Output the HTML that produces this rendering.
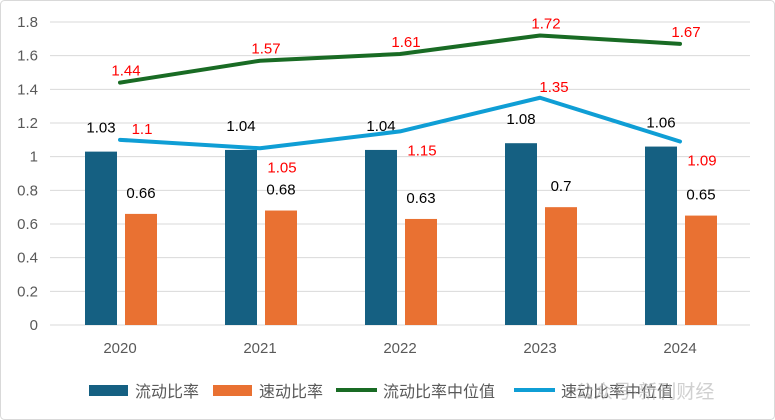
<!DOCTYPE html>
<html><head><meta charset="utf-8">
<style>
body{margin:0;background:#fff;}
#wrap{width:775px;height:420px;position:relative;overflow:hidden;}
svg text{font-family:"Liberation Sans","Noto Sans CJK SC",sans-serif;}
</style></head>
<body>
<div id="wrap">
<svg id="chart" width="775" height="420"></svg>
</div>
<script>
const categories=["2020","2021","2022","2023","2024"];
const currentRatio=[1.03,1.04,1.04,1.08,1.06];
const quickRatio=[0.66,0.68,0.63,0.7,0.65];
const currentMedian=[1.44,1.57,1.61,1.72,1.67];
const quickMedian=[1.1,1.05,1.15,1.35,1.09];
const yTicks=["0","0.2","0.4","0.6","0.8","1","1.2","1.4","1.6","1.8"];

const NS="http://www.w3.org/2000/svg";
const svg=document.getElementById('chart');
function mk(t,a,txt){const e=document.createElementNS(NS,t);for(const k in a)e.setAttribute(k,a[k]);if(txt!==undefined)e.textContent=txt;svg.appendChild(e);return e;}
const y0=325,y1=22,xL=50,xR=750;
function y(v){return y0-(v/1.8)*(y0-y1);}
function x(i){return 120+i*140;}

let b=mk('rect',{x:0.5,y:0.5,width:774,height:419,rx:4,fill:'#fff',stroke:'#d9d9d9'});


yTicks.forEach(t=>{const v=parseFloat(t);
 let g=mk('line',{x1:xL,x2:xR,y1:y(v),y2:y(v),stroke:'#d9d9d9','stroke-width':1});
 
 let l=mk('text',{x:38,y:y(v)+5,'text-anchor':'end','font-size':15,fill:'#595959'},t);
 
});
categories.forEach((c,i)=>{
 let l=mk('text',{x:x(i),y:353,'text-anchor':'middle','font-size':15,fill:'#595959'},c);
 
 let r1=mk('rect',{x:x(i)-35,y:y(currentRatio[i]),width:32,height:y0-y(currentRatio[i]),fill:'#156082'});
 
 let r2=mk('rect',{x:x(i)+5,y:y(quickRatio[i]),width:32,height:y0-y(quickRatio[i]),fill:'#e97132'});
 
 let t1=mk('text',{x:x(i)-19,y:y(currentRatio[i])-19,'text-anchor':'middle','font-size':15,fill:'#000'},currentRatio[i]);
 
 let t2=mk('text',{x:x(i)+21,y:y(quickRatio[i])-16,'text-anchor':'middle','font-size':15,fill:'#000'},quickRatio[i]);
 
});
function line(data,color,name){
 let p=mk('polyline',{points:data.map((v,i)=>x(i)+','+y(v)).join(' '),fill:'none',stroke:color,'stroke-width':4,'stroke-linejoin':'round','stroke-linecap':'round'});
 
}
line(currentMedian,'#196b24','line-current-median');
line(quickMedian,'#0f9ed5','line-quick-median');
currentMedian.forEach((v,i)=>{
 let t=mk('text',{x:x(i)+6,y:y(v)-7,'text-anchor':'middle','font-size':15,fill:'#ff0000'},v);
 
});
quickMedian.forEach((v,i)=>{
 const above=(i===0||i===3);
 let t=mk('text',{x:i===3?x(i)+14:x(i)+22,y:above?y(v)-6:y(v)+24,'text-anchor':'middle','font-size':15,fill:'#ff0000'},v);
 
});
// legend
let s;
s=mk('rect',{x:89,y:385,width:39,height:11,fill:'#156082'});
s=mk('text',{x:135,y:397,'font-size':16,fill:'#595959'},'流动比率');
s=mk('rect',{x:213,y:385,width:39,height:11,fill:'#e97132'});
s=mk('text',{x:259,y:397,'font-size':16,fill:'#595959'},'速动比率');
s=mk('line',{x1:336,x2:377,y1:390,y2:390,stroke:'#196b24','stroke-width':4});
s=mk('text',{x:383,y:397,'font-size':16,fill:'#595959'},'流动比率中位值');
s=mk('line',{x1:514,x2:555,y1:390,y2:390,stroke:'#0f9ed5','stroke-width':4});
s=mk('text',{x:561,y:397,'font-size':16,fill:'#595959'},'速动比率中位值');
s=mk('text',{x:575,y:398,'font-size':19,fill:'#b0b0b0','fill-opacity':0.6},'公众号·新刊财经');
</script>
</body></html>
